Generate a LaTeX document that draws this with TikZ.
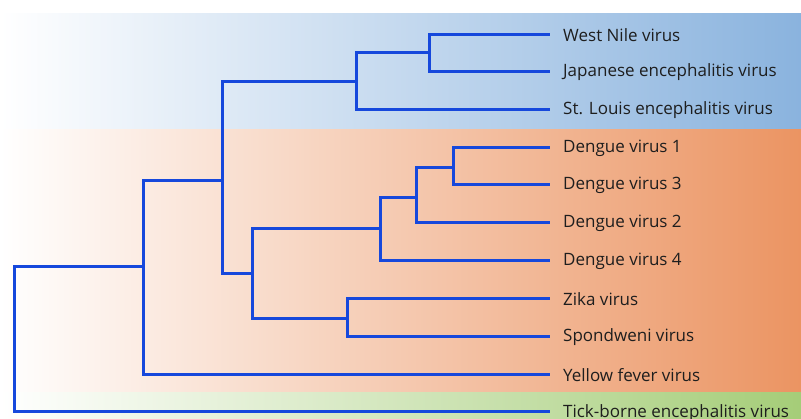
\documentclass[tikz,border=0pt]{standalone}
\usepackage{fontspec}
\setmainfont{Open Sans}
\definecolor{treeblue}{RGB}{22,72,220}
\definecolor{bandblue}{RGB}{138,179,222}
\definecolor{bandorange}{RGB}{235,148,98}
\definecolor{bandgreen}{RGB}{165,205,120}
\definecolor{labelgray}{RGB}{30,30,30}
\begin{document}
\begin{tikzpicture}[x=1pt,y=-1pt,
  edge/.style={draw=treeblue,line width=3pt,line join=miter,line cap=rect},
  leaflabel/.style={anchor=west,inner sep=0pt,text=labelgray,font=\fontsize{17}{19}\selectfont}]
\useasboundingbox (0,0) rectangle (801,419);
% background bands
\shade[left color=white,right color=bandblue] (0,14) rectangle (801,130);
\shade[left color=white,right color=bandorange] (0,130) rectangle (801,393);
\shade[left color=white,right color=bandgreen] (0,393) rectangle (801,419);
% leaves
\coordinate (wn) at (548,35);
\coordinate (je) at (548,72);
\coordinate (sle) at (548,110);
\coordinate (d1) at (548,148);
\coordinate (d3) at (548,185);
\coordinate (d2) at (548,223);
\coordinate (d4) at (548,261);
\coordinate (zika) at (548,299);
\coordinate (spond) at (548,337);
\coordinate (yf) at (548,375);
\coordinate (tbe) at (548,412);
% internal nodes
\coordinate (wnje) at (429,53);
\coordinate (jeg) at (356,82);
\coordinate (d13) at (453,168);
\coordinate (d123) at (416,198);
\coordinate (den) at (380,229);
\coordinate (zs) at (347,319);
\coordinate (dz) at (252,274);
\coordinate (n2) at (222,181);
\coordinate (n1) at (143,267);
\coordinate (root) at (14,267);
% edges
\draw[edge] (wnje) |- (wn);
\draw[edge] (wnje) |- (je);
\draw[edge] (jeg) |- (wnje);
\draw[edge] (jeg) |- (sle);
\draw[edge] (d13) |- (d1);
\draw[edge] (d13) |- (d3);
\draw[edge] (d123) |- (d13);
\draw[edge] (d123) |- (d2);
\draw[edge] (den) |- (d123);
\draw[edge] (den) |- (d4);
\draw[edge] (zs) |- (zika);
\draw[edge] (zs) |- (spond);
\draw[edge] (dz) |- (den);
\draw[edge] (dz) |- (zs);
\draw[edge] (n2) |- (jeg);
\draw[edge] (n2) |- (dz);
\draw[edge] (n1) |- (n2);
\draw[edge] (n1) |- (yf);
\draw[edge] (root) -- (n1);
\draw[edge] (root) |- (tbe);
% labels
\node[leaflabel] (lwn) at (563,35) {West Nile virus};
\node[leaflabel] (lje) at (563,72) {Japanese encephalitis virus};
\node[leaflabel] (lsle) at (563,110) {St. Louis encephalitis virus};
\node[leaflabel] (ld1) at (563,148) {Dengue virus 1};
\node[leaflabel] (ld3) at (563,185) {Dengue virus 3};
\node[leaflabel] (ld2) at (563,223) {Dengue virus 2};
\node[leaflabel] (ld4) at (563,261) {Dengue virus 4};
\node[leaflabel] (lzika) at (563,299) {Zika virus};
\node[leaflabel] (lspond) at (563,337) {Spondweni virus};
\node[leaflabel] (lyf) at (563,375) {Yellow fever virus};
\node[leaflabel] (ltbe) at (563,413) {Tick-borne encephalitis virus};
\end{tikzpicture}
\end{document}
